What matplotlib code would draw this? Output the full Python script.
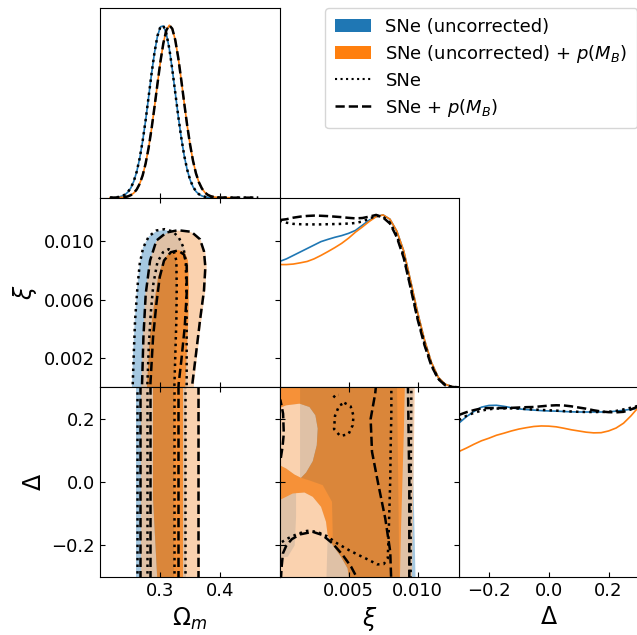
import numpy as np
import matplotlib
matplotlib.use("Agg")
import matplotlib.pyplot as plt
from matplotlib.patches import Patch
from matplotlib.lines import Line2D

# ---------------- 1D marginals ----------------
om_grid = np.linspace(0.215, 0.465, 51)
om_uncorr = [0, 0.0005, 0.002, 0.0043, 0.0088, 0.0172, 0.032, 0.0564, 0.0945, 0.1506,
             0.228, 0.328, 0.448, 0.582, 0.718, 0.841, 0.937, 0.991, 0.996, 0.951,
             0.863, 0.744, 0.609, 0.474, 0.351, 0.246, 0.164, 0.104, 0.063, 0.036,
             0.0196, 0.0101, 0.005, 0.0023, 0.001, 0.0004, 0.0001, 0, 0, 0,
             0, 0, 0, 0, 0, 0, 0, 0, 0, 0, 0]
om_uncorr_pmb = [0, 0, 0.0003, 0.0007, 0.0017, 0.0036, 0.0074, 0.0145, 0.0269, 0.0477,
                 0.0806, 0.129, 0.198, 0.288, 0.399, 0.526, 0.66, 0.789, 0.897, 0.971,
                 1.0, 0.98, 0.915, 0.813, 0.687, 0.553, 0.423, 0.309, 0.214, 0.141,
                 0.0889, 0.0532, 0.0303, 0.0164, 0.0085, 0.0041, 0.0019, 0.0008, 0.0003, 0.0001,
                 0, 0, 0, 0, 0, 0, 0, 0, 0, 0, 0]
om_snes = [0, 0.0005, 0.002, 0.0045, 0.009, 0.0175, 0.0325, 0.057, 0.095, 0.151,
           0.229, 0.329, 0.449, 0.583, 0.719, 0.842, 0.938, 0.992, 0.997, 0.952,
           0.864, 0.745, 0.61, 0.475, 0.352, 0.247, 0.165, 0.105, 0.064, 0.037,
           0.02, 0.0103, 0.0052, 0.0024, 0.001, 0.0004, 0.0001, 0, 0, 0,
           0, 0, 0, 0, 0, 0, 0, 0, 0, 0, 0]
om_snes_pmb = [0, 0, 0.0003, 0.0007, 0.0017, 0.0036, 0.0074, 0.0145, 0.0269, 0.0477,
               0.0806, 0.129, 0.198, 0.288, 0.399, 0.526, 0.66, 0.789, 0.897, 0.971,
               1.0, 0.98, 0.915, 0.813, 0.687, 0.553, 0.423, 0.309, 0.214, 0.141,
               0.0889, 0.0532, 0.0303, 0.0164, 0.0085, 0.0041, 0.0019, 0.0008, 0.0003, 0.0001,
               0, 0, 0, 0, 0, 0, 0, 0, 0, 0, 0]

xi_grid = np.linspace(0.0, 0.013, 27)
xi_uncorr = [0.73, 0.745, 0.765, 0.785, 0.805, 0.825, 0.845, 0.858, 0.87, 0.88,
             0.893, 0.91, 0.94, 0.97, 0.99, 1.0, 0.975, 0.905, 0.79, 0.615,
             0.435, 0.275, 0.145, 0.058, 0.018, 0.004, 0.0]
xi_uncorr_pmb = [0.712, 0.712, 0.715, 0.722, 0.73, 0.745, 0.765, 0.787, 0.81, 0.835,
                 0.865, 0.90, 0.93, 0.962, 0.99, 1.0, 0.975, 0.905, 0.79, 0.615,
                 0.435, 0.275, 0.145, 0.058, 0.018, 0.004, 0.0]
xi_snes = [0.967, 0.955, 0.948, 0.946, 0.945, 0.945, 0.945, 0.946, 0.947, 0.948,
           0.95, 0.953, 0.962, 0.978, 0.995, 0.99, 0.955, 0.88, 0.76, 0.585,
           0.405, 0.255, 0.13, 0.05, 0.014, 0.003, 0.0]
xi_snes_pmb = [0.97, 0.975, 0.984, 0.99, 0.994, 0.996, 0.995, 0.993, 0.99, 0.987,
               0.983, 0.98, 0.982, 0.99, 1.0, 0.985, 0.95, 0.87, 0.75, 0.575,
               0.395, 0.245, 0.125, 0.048, 0.012, 0.002, 0.0]

de_grid = np.linspace(-0.3, 0.3, 25)
de_uncorr = [0.893, 0.93, 0.96, 0.985, 0.995, 0.996, 0.99, 0.982, 0.975, 0.971,
             0.968, 0.965, 0.963, 0.962, 0.96, 0.958, 0.957, 0.957, 0.957, 0.957,
             0.958, 0.962, 0.967, 0.973, 0.978]
de_uncorr_pmb = [0.728, 0.748, 0.77, 0.79, 0.805, 0.822, 0.834, 0.847, 0.858, 0.866,
                 0.873, 0.876, 0.875, 0.871, 0.863, 0.854, 0.847, 0.84, 0.836, 0.837,
                 0.847, 0.864, 0.892, 0.935, 0.985]
de_snes = [0.91, 0.935, 0.952, 0.965, 0.973, 0.977, 0.978, 0.978, 0.977, 0.974,
           0.971, 0.969, 0.967, 0.965, 0.962, 0.96, 0.958, 0.957, 0.957, 0.957,
           0.958, 0.963, 0.972, 0.982, 0.993]
de_snes_pmb = [0.94, 0.956, 0.968, 0.978, 0.98, 0.98, 0.98, 0.981, 0.983, 0.985,
               0.986, 0.99, 0.994, 0.996, 0.995, 0.99, 0.983, 0.976, 0.967, 0.96,
               0.956, 0.955, 0.958, 0.972, 0.99]

# ---------------- 2D contours: (Omega_m, xi) ----------------
omxi_uncorr_95 = [(0.2510, -0.0007), (0.2522, 0.00025), (0.2539, 0.00231), (0.2567, 0.00459),
                  (0.2606, 0.00687), (0.2651, 0.00847), (0.2707, 0.00961), (0.2803, 0.01034),
                  (0.2932, 0.01070), (0.3072, 0.01079), (0.3213, 0.01063), (0.3325, 0.01018),
                  (0.3410, 0.00949), (0.3449, 0.00847), (0.3455, 0.00687), (0.3455, 0.00459),
                  (0.3455, 0.00231), (0.3455, -0.0007)]
omxi_uncorr_68 = [(0.2772, -0.0007), (0.2778, 0.00025), (0.2823, 0.00345), (0.2896, 0.00573),
                  (0.2963, 0.00755), (0.3047, 0.00866), (0.3140, 0.00915), (0.3213, 0.00918),
                  (0.3263, 0.00885), (0.3280, 0.00801), (0.3280, 0.00573), (0.3263, 0.00345),
                  (0.3241, 0.00025), (0.3241, -0.0007)]
omxi_uncorr_pmb_95 = [(0.2668, -0.0007), (0.2679, 0.00025), (0.2707, 0.00345), (0.2746, 0.00641),
                      (0.2820, 0.00869), (0.2932, 0.01002), (0.3101, 0.01056), (0.3297, 0.01075),
                      (0.3522, 0.01063), (0.3679, 0.01011), (0.3758, 0.00926), (0.3781, 0.00824),
                      (0.3758, 0.00664), (0.3691, 0.00459), (0.3623, 0.00231), (0.3567, 0.00025),
                      (0.3556, -0.0007)]
omxi_uncorr_pmb_68 = [(0.2769, -0.0007), (0.2775, 0.00025), (0.2820, 0.00345), (0.2893, 0.00573),
                      (0.2960, 0.00755), (0.3044, 0.00869), (0.3157, 0.00926), (0.3297, 0.00942),
                      (0.3410, 0.00926), (0.3466, 0.00869), (0.3483, 0.00687), (0.3471, 0.00459),
                      (0.3443, 0.00231), (0.3421, 0.00025), (0.3415, -0.0007)]
omxi_snes_95 = [(0.2522, -0.0007), (0.2533, 0.00025), (0.2550, 0.00231), (0.2572, 0.00459),
                (0.2612, 0.00687), (0.2651, 0.00847), (0.2707, 0.00956), (0.2803, 0.01034),
                (0.2932, 0.01075), (0.3072, 0.01084), (0.3213, 0.01068), (0.3314, 0.01024),
                (0.3387, 0.00961), (0.3427, 0.00869), (0.3438, 0.00687), (0.3443, 0.00459),
                (0.3443, 0.00231), (0.3443, -0.0007)]
omxi_snes_68 = [(0.2780, -0.0007), (0.2780, 0.00025), (0.2803, 0.00276), (0.2836, 0.00504),
                (0.2881, 0.00710), (0.2949, 0.00858), (0.3044, 0.00926), (0.3140, 0.00947),
                (0.3230, 0.00926), (0.3269, 0.00869), (0.3275, 0.00687), (0.3269, 0.00459),
                (0.3252, 0.00231), (0.3230, -0.0007)]
omxi_snes_pmb_95 = [(0.2679, -0.0007), (0.2690, 0.00025), (0.2713, 0.00345), (0.2752, 0.00641),
                    (0.2825, 0.00869), (0.2932, 0.01006), (0.3101, 0.01061), (0.3297, 0.01077),
                    (0.3522, 0.01066), (0.3668, 0.01015), (0.3735, 0.00933), (0.3758, 0.00824),
                    (0.3735, 0.00664), (0.3668, 0.00459), (0.3601, 0.00231), (0.3539, 0.00025),
                    (0.3522, -0.0007)]
omxi_snes_pmb_68 = [(0.2825, -0.0007), (0.2831, 0.00025), (0.2876, 0.00345), (0.2932, 0.00573),
                    (0.2988, 0.00755), (0.3061, 0.00869), (0.3174, 0.00926), (0.3297, 0.00938),
                    (0.3398, 0.00910), (0.3443, 0.00835), (0.3443, 0.00641), (0.3410, 0.00413),
                    (0.3353, 0.00185), (0.3308, 0.00025), (0.3297, -0.0007)]

# ---------------- 2D contours: (Omega_m, Delta) ----------------
omde_uncorr_95 = [(0.2584, -0.35), (0.3438, -0.35), (0.3438, 0.35), (0.2584, 0.35)]
omde_uncorr_68 = [(0.2955, -0.35), (0.3230, -0.35), (0.3230, 0.35), (0.2876, 0.35), (0.2876, -0.05)]
omde_uncorr_pmb_95 = [(0.2679, -0.35), (0.3663, -0.35), (0.3663, 0.35), (0.2679, 0.35)]
omde_uncorr_pmb_68 = [(0.2955, -0.35), (0.3382, -0.35), (0.3382, 0.35), (0.2876, 0.35), (0.2876, -0.05)]
omde_snes_95 = [[(0.2606, -0.35), (0.2606, 0.35)], [(0.3410, -0.35), (0.3410, 0.35)]]
omde_snes_68 = [[(0.2780, -0.35), (0.2780, 0.35)], [(0.3230, -0.35), (0.3230, 0.35)]]
omde_snes_pmb_95 = [[(0.2651, -0.35), (0.2651, 0.35)], [(0.3634, -0.35), (0.3634, 0.35)]]
omde_snes_pmb_68 = [[(0.2820, -0.35), (0.2820, 0.35)], [(0.3297, -0.35), (0.3297, 0.35)]]

# ---------------- 2D contours: (xi, Delta) ----------------
xide_uncorr_95 = [(-0.001, 0.35), (0.0097, 0.35), (0.0097, 0.0), (0.00985, -0.3), (0.0099, -0.35),
                  (0.00337, -0.35), (0.00349, -0.1674), (0.00337, -0.1253), (0.00301, -0.0779),
                  (0.00241, -0.0463), (0.00181, -0.0326), (0.0012, -0.034), (0.0012, -0.11),
                  (0.0011, -0.2), (0.0006, -0.236), (-0.001, -0.241), (-0.001, 0.0537),
                  (0.0, 0.0537), (0.00048, 0.0432), (0.00108, 0.0242), (0.00149, 0.015),
                  (0.00149, 0.2484), (0.00048, 0.2431), (0.0, 0.2347), (-0.001, 0.2347)]
xide_uncorr_68 = [(0.00149, 0.35), (0.00149, 0.2484), (0.00217, 0.2379), (0.0026, 0.2116),
                  (0.00277, 0.1695), (0.0027, 0.1168), (0.00241, 0.0663), (0.00193, 0.0305),
                  (0.00156, 0.0137), (0.0022, 0.005), (0.00313, -0.0095), (0.0038, -0.062),
                  (0.00385, -0.157), (0.00385, -0.1989), (0.00445, -0.2358), (0.00493, -0.2726),
                  (0.0052, -0.35), (0.0087, -0.35), (0.0086, 0.0), (0.0085, 0.35)]
xide_uncorr_pmb_95 = [(-0.001, -0.35), (0.0096, -0.35), (0.0096, -0.3), (0.0097, 0.0),
                      (0.0098, 0.3), (0.0098, 0.35), (-0.001, 0.35)]
xide_uncorr_pmb_68 = [(-0.001, 0.35), (0.0091, 0.35), (0.0090, 0.15), (0.0089, 0.0), (0.0088, -0.15),
                      (0.0087, -0.35), (0.0052, -0.35), (0.00493, -0.2726), (0.00445, -0.2358),
                      (0.00385, -0.1989), (0.00349, -0.1674), (0.00337, -0.1253), (0.00301, -0.0779),
                      (0.00241, -0.0463), (0.00181, -0.0326), (0.00096, -0.0358), (0.0, -0.0568),
                      (-0.001, -0.0568), (-0.001, 0.0537), (0.0, 0.0537), (0.00048, 0.0432),
                      (0.00108, 0.0242), (0.00156, 0.0137), (0.00193, 0.0305), (0.00241, 0.0663),
                      (0.0027, 0.1168), (0.00277, 0.1695), (0.0026, 0.2116), (0.00217, 0.2379),
                      (0.00144, 0.2484), (0.00048, 0.2431), (0.0, 0.2347), (-0.001, 0.2347)]
xide_snes_95 = [(0.00955, 0.31), (0.0095, 0.0), (0.0095, -0.31)]
xide_snes_68_main = [(0.0081, 0.31), (0.0081, 0.217), (0.00805, 0.1115), (0.00802, 0.0063),
                     (0.00795, -0.0989), (0.0079, -0.1726), (0.00784, -0.241), (0.00755, -0.259),
                     (0.00707, -0.26), (0.00647, -0.246), (0.00575, -0.231), (0.00503, -0.215),
                     (0.00419, -0.194), (0.00344, -0.171), (0.00272, -0.157), (0.002, -0.154),
                     (0.00128, -0.164), (0.00055, -0.179), (0.0, -0.194), (-0.0002, -0.2)]
xide_snes_68_loop = [(0.0047, 0.251), (0.00515, 0.24), (0.00536, 0.21), (0.0053, 0.18), (0.005, 0.152),
                     (0.0044, 0.146), (0.00395, 0.168), (0.00402, 0.21), (0.00432, 0.242), (0.0047, 0.251)]
xide_snes_68_top = [(0.0039, 0.268), (0.0041, 0.277), (0.0043, 0.276)]
xide_snes_pmb_95 = [(0.0093, 0.31), (0.0094, 0.0), (0.0094, -0.31)]
xide_snes_pmb_68_main = [(0.0070, 0.31), (0.00693, 0.28), (0.0066, 0.2), (0.0067, 0.096),
                         (0.00717, -0.01), (0.00766, -0.115), (0.00802, -0.22), (0.00809, -0.31)]
xide_snes_pmb_68_left = [(-0.0001, 0.27), (0.00007, 0.2589), (0.00026, 0.2168), (0.00031, 0.1537),
                         (0.00022, 0.1116), (0.00007, 0.0695), (-0.0001, 0.06)]
xide_snes_pmb_68_hump = [(0.0001, -0.31), (0.00015, -0.27), (0.00025, -0.225), (0.0005, -0.2),
                         (0.0009, -0.18), (0.0015, -0.165), (0.0024, -0.157), (0.0031, -0.167),
                         (0.00385, -0.194), (0.00457, -0.23), (0.00518, -0.267), (0.0057, -0.31)]

# ---------------- axes settings ----------------
om_lim = (0.198, 0.501)
xi_lim = (0.0, 0.013)
de_lim = (-0.3, 0.3)
om_ticks = [0.3, 0.4]
xi_ticks = [0.005, 0.010]
xi_yticks = [0.002, 0.006, 0.010]
de_ticks = [-0.2, 0.0, 0.2]

C_BLUE = "#1f77b4"
C_ORANGE = "#ff7f0e"
C_ORANGE_LIGHT = "#f8bf8e"
A_B95, A_B68 = 0.4, 0.5
A_O95, A_O68 = 0.7, 0.72
LW_K = 1.8

W, H = 637, 635
fig = plt.figure(figsize=(W / 100, H / 100), dpi=100)

def make_ax(col, row):
    top = 8 + row * 189.67
    return fig.add_axes([(100 + col * 179.5) / W, (H - top - 189.67) / H, 179.5 / W, 189.67 / H])

def fill(ax, pts, color, alpha):
    x, y = zip(*pts)
    ax.fill(x, y, color=color, alpha=alpha, lw=0)

def kline(ax, pts, ls):
    x, y = zip(*pts)
    ax.plot(x, y, color="k", ls=ls, lw=LW_K)

def fills(ax, b95, o95, b68, o68):
    fill(ax, b95, C_BLUE, A_B95)
    fill(ax, o95, C_ORANGE_LIGHT, A_O95)
    fill(ax, b68, C_BLUE, A_B68)
    fill(ax, o68, C_ORANGE, A_O68)

def style_1d(ax, lim, ticks, labels):
    ax.set_xlim(*lim)
    ax.set_ylim(0, 1.1)
    ax.set_yticks([])
    ax.set_xticks(ticks)
    ax.tick_params(direction="in", labelsize=13, labelbottom=labels)

def style_2d(ax, xlim, ylim, xt, yt, lb, ll):
    ax.set_xlim(*xlim)
    ax.set_ylim(*ylim)
    ax.set_xticks(xt)
    ax.set_yticks(yt)
    ax.tick_params(direction="in", top=True, right=True, labelsize=13,
                   labelbottom=lb, labelleft=ll)

# 1D Omega_m
ax = make_ax(0, 0)
ax.plot(om_grid[:40], om_uncorr[:40], color=C_BLUE, lw=1.2)
ax.plot(om_grid[:42], om_uncorr_pmb[:42], color=C_ORANGE, lw=1.2)
ax.plot(om_grid, om_snes, color="k", ls=":", lw=LW_K)
ax.plot(om_grid, om_snes_pmb, color="k", ls="--", lw=LW_K)
style_1d(ax, om_lim, om_ticks, False)

# 1D xi
ax = make_ax(1, 1)
ax.plot(xi_grid, xi_uncorr, color=C_BLUE, lw=1.2)
ax.plot(xi_grid, xi_uncorr_pmb, color=C_ORANGE, lw=1.2)
ax.plot(xi_grid, xi_snes, color="k", ls=":", lw=LW_K)
ax.plot(xi_grid, xi_snes_pmb, color="k", ls="--", lw=LW_K)
style_1d(ax, xi_lim, xi_ticks, False)

# 1D Delta
ax = make_ax(2, 2)
ax.plot(de_grid, de_uncorr, color=C_BLUE, lw=1.2)
ax.plot(de_grid, de_uncorr_pmb, color=C_ORANGE, lw=1.2)
ax.plot(de_grid, de_snes, color="k", ls=":", lw=LW_K)
ax.plot(de_grid, de_snes_pmb, color="k", ls="--", lw=LW_K)
style_1d(ax, de_lim, de_ticks, True)
ax.set_xticklabels(["\u22120.2", "0.0", "0.2"])
ax.set_xlabel(r"$\Delta$", fontsize=17)

# Omega_m - xi
ax = make_ax(0, 1)
fills(ax, omxi_uncorr_95, omxi_uncorr_pmb_95, omxi_uncorr_68, omxi_uncorr_pmb_68)
kline(ax, omxi_snes_95, ":")
kline(ax, omxi_snes_68, ":")
kline(ax, omxi_snes_pmb_95, "--")
kline(ax, omxi_snes_pmb_68, "--")
style_2d(ax, om_lim, xi_lim, om_ticks, xi_yticks, False, True)
ax.set_yticklabels(["0.002", "0.006", "0.010"])
ax.set_ylabel(r"$\xi$", fontsize=17)

# Omega_m - Delta
ax = make_ax(0, 2)
fills(ax, omde_uncorr_95, omde_uncorr_pmb_95, omde_uncorr_68, omde_uncorr_pmb_68)
for seg in omde_snes_95 + omde_snes_68:
    kline(ax, seg, ":")
for seg in omde_snes_pmb_95 + omde_snes_pmb_68:
    kline(ax, seg, "--")
style_2d(ax, om_lim, de_lim, om_ticks, de_ticks, True, True)
ax.set_xticklabels(["0.3", "0.4"])
ax.set_yticklabels(["\u22120.2", "0.0", "0.2"])
ax.set_xlabel(r"$\Omega_m$", fontsize=17)
ax.set_ylabel(r"$\Delta$", fontsize=17)

# xi - Delta
ax = make_ax(1, 2)
fills(ax, xide_uncorr_95, xide_uncorr_pmb_95, xide_uncorr_68, xide_uncorr_pmb_68)
for seg in (xide_snes_95, xide_snes_68_main, xide_snes_68_loop, xide_snes_68_top):
    kline(ax, seg, ":")
for seg in (xide_snes_pmb_95, xide_snes_pmb_68_main, xide_snes_pmb_68_left, xide_snes_pmb_68_hump):
    kline(ax, seg, "--")
style_2d(ax, xi_lim, de_lim, xi_ticks, de_ticks, True, False)
ax.set_xticklabels(["0.005", "0.010"])
ax.set_xlabel(r"$\xi$", fontsize=17)

handles = [Patch(facecolor=C_BLUE), Patch(facecolor=C_ORANGE),
           Line2D([], [], color="k", ls=":", lw=1.5), Line2D([], [], color="k", ls="--", lw=1.8)]
labels = ["SNe (uncorrected)", r"SNe (uncorrected) + $p(M_B)$", "SNe", r"SNe + $p(M_B)$"]
fig.legend(handles, labels, loc="upper left", bbox_to_anchor=(325 / W, 1 - 8 / H),
           borderaxespad=0, fontsize=13, labelspacing=0.38, borderpad=0.55)

fig.savefig("out.png", dpi=100)
